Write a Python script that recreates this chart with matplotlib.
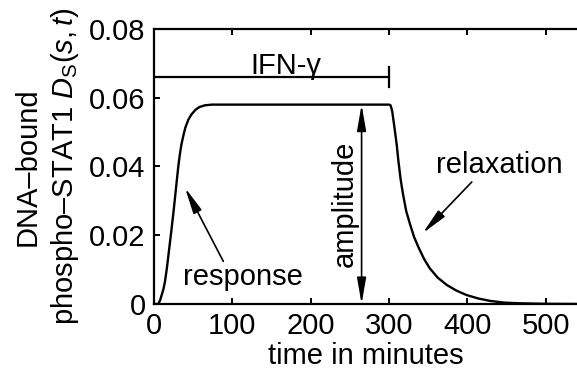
import matplotlib
matplotlib.use("Agg")
import matplotlib.pyplot as plt

# Font setup (Helvetica-like look)
plt.rcParams['font.family'] = ['Liberation Sans', 'DejaVu Sans']
plt.rcParams['mathtext.fontset'] = 'custom'
plt.rcParams['mathtext.rm'] = 'Liberation Sans'
plt.rcParams['mathtext.it'] = 'Liberation Sans:italic'
plt.rcParams['font.size'] = 21

# Curve: time (min) -> DNA-bound phospho-STAT1
time_min = [0, 5.5, 8, 9.8, 12, 14, 16.5, 19, 22, 25, 28, 31, 33, 35, 37.5, 40,
            44, 48, 53, 58, 65, 74,
            300, 302, 304, 307, 310, 312, 315, 318, 322, 327, 332, 338, 345,
            352, 362, 374, 386, 399, 414, 429, 447, 467, 500, 540]
d_s = [0, 0, 0.0012, 0.0026, 0.0043, 0.0065, 0.0105, 0.0153, 0.021, 0.027,
       0.0335, 0.040, 0.0435, 0.0464, 0.049, 0.0513,
       0.0537, 0.0552, 0.0565, 0.0573, 0.0578, 0.058,
       0.058, 0.0578, 0.0562, 0.0513, 0.046, 0.0416, 0.036, 0.0318, 0.027,
       0.0231, 0.0195, 0.0163, 0.013, 0.0104, 0.0077, 0.0055, 0.0039, 0.0026,
       0.0016, 0.0009, 0.0004, 0.0002, 0.00005, 0]

# IFN-gamma stimulation window
ifn_start, ifn_end, ifn_level = 0, 300, 0.0659
amplitude_x = 265
plateau = 0.058

x_ticks = [0, 100, 200, 300, 400, 500]
y_ticks = [0, 0.02, 0.04, 0.06, 0.08]
y_tick_labels = ['0', '0.02', '0.04', '0.06', '0.08']

fig = plt.figure(figsize=(5.77, 3.78), dpi=100)
ax = fig.add_axes([0.2669, 0.1958, 0.7331, 0.7275])

ax.plot(time_min, d_s, color='black', lw=1.7, solid_joinstyle='round')

# IFN bar
ax.plot([ifn_start, ifn_end], [ifn_level, ifn_level], color='black', lw=1.6)
ax.plot([ifn_end, ifn_end], [ifn_level - 0.0029, ifn_level + 0.0029], color='black', lw=1.6)
ax.text(168, 0.0668, 'IFN-γ', ha='center', va='baseline')

arrow_style = dict(arrowstyle='-|>,head_length=0.75,head_width=0.13',
                   color='black', lw=1.2, shrinkA=0, shrinkB=0)

# amplitude double arrow
ax.annotate('', xy=(amplitude_x, plateau), xytext=(amplitude_x, 0),
            arrowprops=dict(arrow_style, arrowstyle='<|-|>,head_length=0.75,head_width=0.13'))
ax.text(244, 0.029, 'amplitude', rotation=90, ha='center', va='center')

# response arrow
ax.annotate('', xy=(39.6, 0.0338), xytext=(88.5, 0.0124), arrowprops=arrow_style)
ax.text(113, 0.0079, 'response', ha='center', va='center')

# relaxation arrow
ax.annotate('', xy=(343, 0.0206), xytext=(405.7, 0.0355), arrowprops=arrow_style)
ax.text(440.7, 0.0403, 'relaxation', ha='center', va='center')

ax.set_xlim(0, 540)
ax.set_ylim(0, 0.08)
ax.set_xticks(x_ticks)
ax.set_yticks(y_ticks)
ax.set_yticklabels(y_tick_labels)
ax.spines['right'].set_visible(False)
for s in ['left', 'top', 'bottom']:
    ax.spines[s].set_linewidth(1.6)
ax.tick_params(direction='in', length=4, width=1.4, top=True, right=False, pad=6)

ax.set_xlabel('time in minutes', labelpad=1)
ax.set_ylabel('DNA–bound\nphospho–STAT1 $D_\\mathrm{S}(s,t)$', labelpad=6, linespacing=1.3)

fig.savefig('out.png', dpi=100)
